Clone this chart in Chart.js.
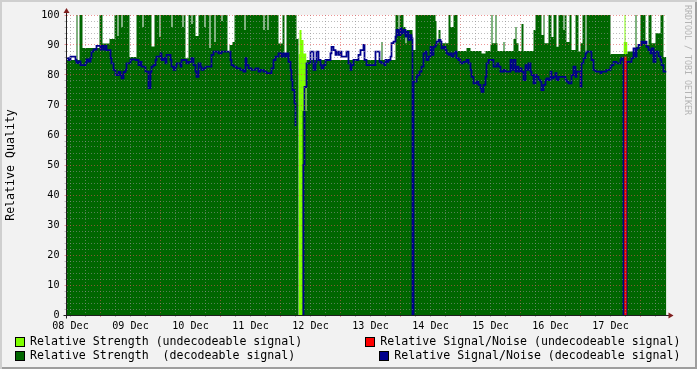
<!DOCTYPE html>
<html lang="en">
<head>
<meta charset="UTF-8">
<title>Relative Quality</title>
<style>
  body { margin: 0; background: #fff; }
  #wrap {
    position: relative; width: 697px; height: 369px; background: #f2f2f2;
    box-shadow: inset 2px 2px 0 #cfcfcf, inset -2px -2px 0 #9e9e9e;
    font-family: "DejaVu Sans Mono", monospace;
  }
  #chart { position: absolute; left: 0; top: 0; }
  .lg-box { position: absolute; width: 8px; height: 8px; border: 1px solid #000; box-sizing: content-box; }
  .lg-text { position: absolute; font-size: 11.6px; line-height: 14px; white-space: pre; color: #000; }
  #mark {
    position: absolute; left: 683px; top: 5px; font-size: 8.3px; line-height: 9px;
    writing-mode: vertical-rl; color: #b4b4b4; white-space: pre;
  }
</style>
</head>
<body>
<div id="wrap">
  <canvas id="chart" width="697" height="369"></canvas>
  <div id="mark">RRDTOOL / TOBI OETIKER</div>
</div>

<script src="https://cdn.jsdelivr.net/npm/chart.js"></script>
<script>
// time axis: 24-minute steps from the left edge of the graph (60 steps = 1 day)
const dayLabels = ['08 Dec', '09 Dec', '10 Dec', '11 Dec', '12 Dec', '13 Dec', '14 Dec', '15 Dec', '16 Dec', '17 Dec'];
const labelStep0 = 4;     // step of the first day label
const majorStep0 = 34;    // step of the first major (red) grid line

// Relative Strength (decodeable signal)
const strengthDecT = [0, 10, 11, 13, 16, 33, 36, 43, 48, 51, 52, 55, 56, 63, 70, 76, 77, 85, 88, 93, 94,
  105, 106, 116, 117, 119, 122, 125, 126, 129, 132, 138, 139, 143, 144, 148, 149, 155, 156, 161, 163, 166, 168,
  178, 179, 197, 198, 201, 202, 212, 216, 218, 220, 230, 232, 236, 240, 315, 316, 329, 332, 333, 337, 339, 340,
  346, 349, 369, 370, 372, 374, 382, 384, 387, 391, 400, 404, 415, 419, 424, 425, 426, 429, 430, 431, 437, 438,
  447, 449, 450, 452, 455, 457, 467, 469, 475, 477, 478, 482, 485, 487, 490, 492, 497, 498, 500, 503, 505, 509,
  512, 514, 516, 519, 520, 544, 561, 569, 570, 574, 579, 582, 585, 589, 594, 597, 600];
const strengthDecV = [85, 100, 85, 100, 89, 100, 90.5, 92, 100, 93, 100, 96, 100, 86, 100, 96, 100, 89.5, 100, 92.7, 100,
  96, 100, 96, 100, 85.6, 100, 97, 100, 93, 100, 96, 100, 89, 100, 91, 100, 98, 100, 88, 90, 91, 100,
  95, 100, 95, 100, 95, 100, 90.5, 100, 87.2, 100, 92, 0, 68, 85, 91, 85, 100, 95, 100, 96, 90.6, 95,
  88.3, 100, 98, 90.6, 95, 90.6, 100, 96, 100, 88, 89, 88, 87.2, 88, 90, 100, 90.6, 100, 90.6, 88, 91, 88,
  92, 96, 90.6, 88, 97, 88, 95, 100, 93.3, 100, 90.6, 100, 92.7, 100, 89.4, 100, 95, 100, 91, 100, 88.3, 100,
  87.8, 90.6, 100, 87.2, 100, 87, 87.8, 100, 89.4, 100, 90, 100, 90.6, 93.9, 100, 86, 86];

// Relative Strength (undecodeable signal)
const strengthUndT = [232, 233, 235, 237, 240, 241, 557, 558, 559, 561];
const strengthUndV = [87, 95, 91.7, 87.2, 87.2, null, 91, 100, 91, 91];

// Relative Signal/Noise (decodeable signal)
const snrDecT = [0, 2, 4, 9, 10, 12, 14, 19, 20, 22, 24, 25, 27, 30, 34, 35, 37, 39, 40, 44, 45, 47, 49, 52, 54, 55,
  57, 59, 60, 64, 65, 69, 72, 74, 75, 79, 82, 84, 85, 87, 89, 90, 94, 95, 97, 99, 100, 104, 105, 107, 109, 110,
  114, 115, 120, 122, 125, 127, 129, 130, 132, 134, 135, 137, 139, 145, 147, 152, 155, 164, 165, 167, 170, 174,
  177, 179, 180, 182, 185, 189, 192, 194, 197, 200, 205, 207, 209, 212, 215, 217, 219, 220, 222, 224, 225, 226,
  228, 229, 230, 236, 237, 238, 240, 244, 247, 249, 250, 252, 254, 255, 257, 259, 264, 265, 267, 269, 270, 272,
  274, 275, 280, 282, 284, 285, 287, 292, 294, 297, 298, 300, 309, 313, 315, 318, 319, 320, 322, 324, 325, 327,
  329, 330, 332, 334, 335, 337, 339, 340, 342, 344, 345, 346, 347, 350, 351, 353, 355, 357, 359, 360, 362, 364,
  365, 367, 369, 370, 372, 374, 375, 377, 379, 380, 382, 384, 385, 387, 389, 390, 392, 394, 397, 400, 402, 404,
  405, 407, 410, 412, 414, 415, 417, 419, 420, 422, 427, 430, 432, 434, 437, 439, 444, 445, 447, 449, 450, 452,
  454, 455, 457, 459, 460, 462, 464, 465, 467, 469, 470, 472, 474, 475, 477, 479, 480, 482, 484, 485, 487, 489,
  490, 492, 499, 500, 502, 505, 507, 509, 510, 514, 515, 517, 519, 520, 525, 527, 529, 534, 535, 540, 544, 545,
  547, 550, 554, 555, 557, 560, 565, 567, 569, 570, 572, 575, 577, 579, 580, 582, 584, 585, 587, 589, 592, 594,
  595, 597, 600];
const snrDecV = [85.6, 85, 86.1, 85, 84, 84.5, 83.3, 84, 85.2, 84.5, 85.6, 87.8, 88.5, 89.7, 88.5, 89.7, 88.5, 89.7, 88.3, 85.6, 83.9, 81.7, 80, 81, 80, 78.9,
  81, 81.7, 83.9, 85, 85.2, 85, 83.3, 84.4, 82.8, 81.1, 75.6, 81.1, 82.8, 83.3, 85, 86.1, 87.2, 85, 85.6, 83.9, 86.7, 85, 82.8, 81.7, 82.8, 83.9,
  82.8, 85, 83.9, 84.4, 85.6, 83.3, 81.1, 79.4, 83.9, 82.8, 81.7, 82.2, 82.8, 86.7, 87.8, 87.2, 87.8, 85, 83.3, 82.8, 82.2, 81.7,
  81.1, 85.6, 83.3, 82.2, 81.7, 82.2, 81.1, 81.7, 81.1, 80.6, 82.2, 85, 86.1, 87.2, 86.1, 87.2, 86.1, 87.2, 84.4, 81.7, 78.3, 75,
  70.6, 63, null, 0, 50, 76, 83.9, 87.8, 81.7, 83.9, 87.8, 85, 83.3, 82.2, 83.3, 85, 87.2, 89.4, 88.3, 86.7, 87.8, 86.7,
  87.8, 86.1, 87.8, 83.9, 81.7, 83.3, 85, 86.7, 88.3, 90, 85, 83.3, 87.8, 84.4, 83.9, 83.3, 85, 84.4, 85, 86.1, 90.6, 91.1,
  92.8, 95, 93.3, 95.6, 93.9, 95, 92.8, 94.4, 91.7, 93.3, 92.2, 0, 77.8, 79.4, 80, 81.1, 82.8, 87.2, 87.8, 85, 86.1, 89.4,
  86.7, 89.4, 90, 91.1, 91.7, 91.1, 88.9, 89.4, 88.3, 87.2, 86.7, 87.2, 86.1, 87.2, 87.8, 85.6, 85, 83.9, 84.4, 85, 83.9, 81.7,
  79.4, 77.2, 77.8, 76.7, 75.6, 74.4, 76.7, 79.4, 83.9, 85, 82.8, 83.9, 82.8, 81.1, 81.7, 81.1, 85, 81.7, 85, 81.1, 82.8, 81.1,
  82.2, 81.1, 78.3, 83.3, 81.7, 83.9, 81.1, 80, 77.2, 80, 79.4, 78.3, 77.8, 75, 76.7, 78.3, 78.9, 78.3, 81.1, 78.9, 79.4, 80.6,
  78.3, 79.4, 78.3, 77.8, 77.2, 80, 82.8, 79.4, 81.1, 76.1, 83.9, 85.6, 87.2, 87.8, 85, 81.7, 81.1, 80.6, 81.1, 81.7, 82.8, 83.3,
  84.4, 83.9, 85, 85.6, 0, 84.4, 85.6, 88.9, 86.1, 88.9, 90, 91.1, 90.6, 91.1, 89.4, 88.3, 87.2, 88.9, 84.4, 87.8, 86.1, 85,
  83.3, 81.1, 81.1];

// Relative Signal/Noise (undecodeable signal)
const snrUndT = [558, 559, 560];
const snrUndV = [0, 86, 0];

// y axis: minor grid every 2, labels every 10
const yStep = 2;
const yLabelEvery = 10;

function points(t, v) {
    return t.map((x, i) => ({ x: x, y: v[i] }));
}

const FONT = 'DejaVu Sans Mono';
const gridMinor = 'rgba(143,143,143,0.6)';
const gridMajor = 'rgba(222,79,79,0.6)';

// grid / label positions along the time axis
const xTicks = [];
for (let s = labelStep0; s <= 600; s += 15) xTicks.push(s);

function isMajorX(v) { return ((v - majorStep0) % 60 + 60) % 60 === 0; }

// white plot background
const plotBackground = {
    id: 'plotBackground',
    beforeDraw(chart) {
        const a = chart.chartArea, c = chart.ctx;
        c.save();
        c.fillStyle = '#ffffff';
        c.fillRect(a.left, a.top, a.right - a.left, a.bottom - a.top);
        c.restore();
    }
};

// axis lines with arrows, drawn like rrdtool does
const axisArrows = {
    id: 'axisArrows',
    afterDraw(chart) {
        const a = chart.chartArea, c = chart.ctx;
        const x0 = Math.floor(a.left) + 0.5;
        const y0 = Math.round(a.bottom) + 0.5;
        c.save();
        c.strokeStyle = '#1f1f1f';
        c.lineWidth = 1;
        c.beginPath();
        c.moveTo(x0, y0 + 3);
        c.lineTo(x0, a.top - 5);
        c.moveTo(x0 - 3, y0);
        c.lineTo(a.right + 6, y0);
        c.stroke();
        c.fillStyle = '#801f1f';
        c.beginPath();
        c.moveTo(x0 - 3, a.top - 2);
        c.lineTo(x0 + 3, a.top - 2);
        c.lineTo(x0, a.top - 7);
        c.closePath();
        c.fill();
        c.beginPath();
        c.moveTo(a.right + 2, y0 - 3);
        c.lineTo(a.right + 2, y0 + 3);
        c.lineTo(a.right + 7, y0);
        c.closePath();
        c.fill();
        c.restore();
    }
};

const ctx = document.getElementById('chart').getContext('2d');
const chart = new Chart(ctx, {
    type: 'line',
    data: {
        datasets: [
            {
                label: 'Relative Signal/Noise (undecodeable signal)',
                data: points(snrUndT, snrUndV),
                borderColor: '#ff0000',
                backgroundColor: '#ff0000',
                borderWidth: 1.2,
                stepped: 'middle',
                fill: false,
                pointRadius: 0,
                order: 0
            },
            {
                label: 'Relative Signal/Noise (decodeable signal)',
                data: points(snrDecT, snrDecV),
                borderColor: '#00008c',
                backgroundColor: '#00008c',
                borderWidth: 1.8,
                stepped: true,
                fill: false,
                pointRadius: 0,
                order: 1
            },
            {
                label: 'Relative Strength  (decodeable signal)',
                data: points(strengthDecT, strengthDecV),
                borderColor: '#006600',
                backgroundColor: '#006600',
                borderWidth: 0,
                stepped: true,
                fill: 'origin',
                pointRadius: 0,
                order: 2
            },
            {
                label: 'Relative Strength (undecodeable signal)',
                data: points(strengthUndT, strengthUndV),
                borderColor: '#7fff00',
                backgroundColor: '#7fff00',
                borderWidth: 0,
                stepped: true,
                fill: 'origin',
                pointRadius: 0,
                order: 3
            }
        ]
    },
    options: {
        responsive: false,
        animation: false,
        layout: { padding: { left: 0, right: 30.5, top: 15, bottom: 0 } },
        plugins: { legend: { display: false }, tooltip: { enabled: false } },
        scales: {
            x: {
                type: 'linear',
                min: 0,
                max: 600,
                afterFit(scale) { scale.height = 54; },
                afterBuildTicks(scale) { scale.ticks = xTicks.map(v => ({ value: v })); },
                ticks: {
                    autoSkip: false,
                    maxRotation: 0,
                    color: '#000',
                    font: { family: FONT, size: 10.1 },
                    padding: 3,
                    callback(v) {
                        const k = (v - labelStep0) / 60;
                        return Number.isInteger(k) ? dayLabels[k] : '';
                    }
                },
                grid: {
                    z: 1,
                    color: c => isMajorX(c.tick.value) ? gridMajor : gridMinor,
                    tickColor: c => isMajorX(c.tick.value) ? gridMajor : gridMinor,
                    lineWidth: 1,
                    drawTicks: true,
                    tickLength: 2
                },
                border: { display: false, dash: [1, 2] }
            },
            y: {
                min: 0,
                max: 100,
                afterFit(scale) { scale.width = 66.5; },
                ticks: {
                    stepSize: yStep,
                    autoSkip: false,
                    color: '#000',
                    font: { family: FONT, size: 10.1 },
                    padding: 5,
                    callback: v => (v % yLabelEvery === 0 ? String(v) : '')
                },
                title: {
                    display: true,
                    text: 'Relative Quality',
                    color: '#000',
                    font: { family: FONT, size: 11.6 },
                    padding: { top: 4, bottom: 0 }
                },
                grid: {
                    z: 1,
                    color: c => (c.tick.value % yLabelEvery === 0 ? gridMajor : gridMinor),
                    tickColor: c => (c.tick.value % yLabelEvery === 0 ? gridMajor : gridMinor),
                    lineWidth: 1,
                    drawTicks: true,
                    tickLength: 2
                },
                border: { display: false, dash: [1, 2] }
            }
        }
    },
    plugins: [plotBackground, axisArrows]
});

// rrdtool style legend: two columns, right column right-aligned
const legendItems = [
    { ds: 3, row: 0, col: 0 },
    { ds: 0, row: 0, col: 1 },
    { ds: 2, row: 1, col: 0 },
    { ds: 1, row: 1, col: 1 }
];
const wrap = document.getElementById('wrap');
const charW = 6.98;
legendItems.forEach(item => {
    const ds = chart.data.datasets[item.ds];
    const top = 334 + item.row * 14;
    const textW = ds.label.length * charW;
    const textLeft = item.col === 0 ? 30 : 680.5 - textW;
    const box = document.createElement('div');
    box.className = 'lg-box';
    box.style.background = ds.backgroundColor;
    box.style.left = (textLeft - 15) + 'px';
    box.style.top = (top + 3) + 'px';
    wrap.appendChild(box);
    const txt = document.createElement('div');
    txt.className = 'lg-text';
    txt.textContent = ds.label;
    txt.style.left = textLeft + 'px';
    txt.style.top = top + 'px';
    wrap.appendChild(txt);
});
</script>
</body>
</html>
